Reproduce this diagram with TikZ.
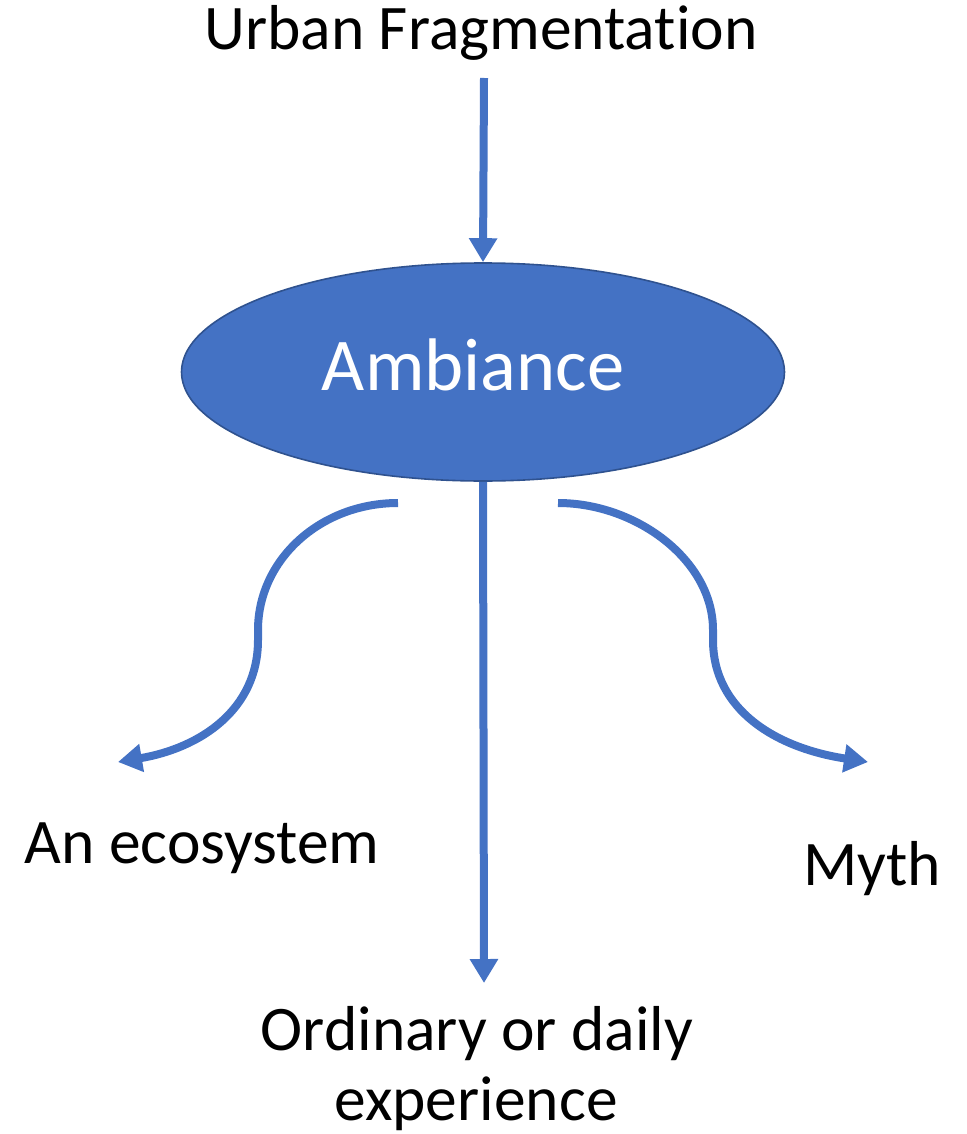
\documentclass[tikz,border=0pt]{standalone}
\usepackage{fontspec}
\setmainfont{Carlito}[Ligatures=NoCommon]
\usetikzlibrary{arrows.meta,shapes.geometric}
\definecolor{accent}{HTML}{4472C4}
\definecolor{accentdark}{HTML}{2F528F}
\tikzset{
  lbl/.style={inner sep=0pt, anchor=base, text=black, font=\fontsize{63.5}{72}\selectfont},
  conn/.style={draw=accent, line width=8pt, -{Triangle[width=27pt,length=24pt]}},
  hub/.style={ellipse, fill=accent, draw=accentdark, line width=1.6pt, minimum width=603pt, minimum height=218pt, inner sep=0pt}
}
\begin{document}
\begin{tikzpicture}[x=1pt,y=-1pt]
\useasboundingbox (0,0) rectangle (966,1134);
\node[hub] (amb) at (483,372) {};
\node[inner sep=0pt, anchor=base, text=white, font=\fontsize{74.5}{80}\selectfont] (ambt) at (473,390) {Ambiance};
\node[lbl] (uf) at (481,50) {Urban Fragmentation};
\node[lbl] (eco) at (202,863) {An ecosystem};
\node[lbl] (myth) at (872,885) {Myth};
\node[lbl] (ord) at (477,1050) {Ordinary or daily};
\node[lbl] (exp) at (476,1120) {experience};
\coordinate (ufb) at (484,78);
\coordinate (ordt) at (484,983);
\coordinate (ls) at (398,503);
\coordinate (lm) at (258,630);
\coordinate (lm2) at (258,640);
\coordinate (le) at (118,762);
\coordinate (rs) at (558,503);
\coordinate (rm) at (713,630);
\coordinate (rm2) at (713,640);
\coordinate (re) at (868,762);
\draw[conn] (ufb) -- (amb.north);
\draw[conn] (amb.south) -- (ordt);
\draw[conn] (ls) .. controls (320,503) and (258,560) .. (lm) -- (lm2)
  .. controls (258,710) and (200,748) .. (le);
\draw[conn] (rs) .. controls (636,503) and (713,560) .. (rm) -- (rm2)
  .. controls (713,710) and (776,748) .. (re);
\end{tikzpicture}
\end{document}
